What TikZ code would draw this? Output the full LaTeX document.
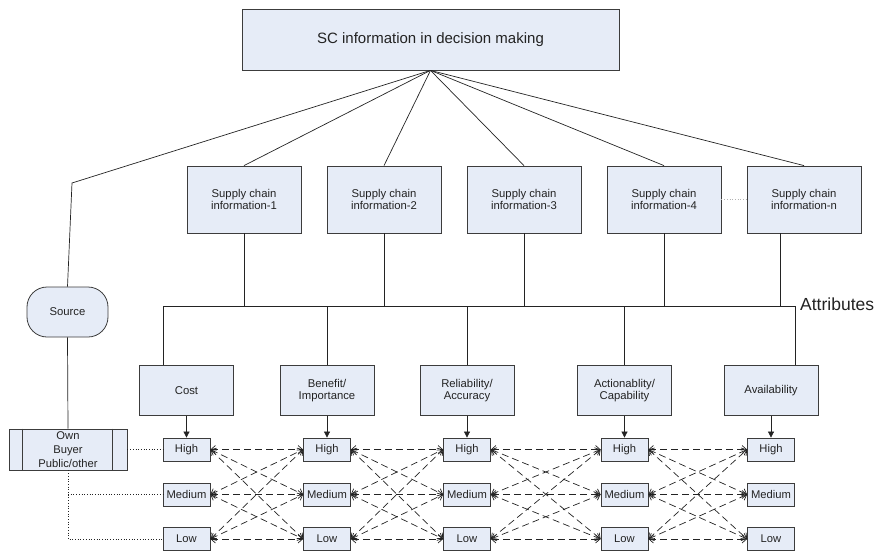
\documentclass[tikz,border=0pt]{standalone}
\usepackage{fontspec}
\setmainfont{Liberation Sans}
\usetikzlibrary{arrows.meta,positioning,calc}
\definecolor{paleblue}{RGB}{230,236,247}
\definecolor{edge}{RGB}{60,60,60}
\definecolor{ink}{RGB}{35,35,35}
\tikzset{
  >={Triangle[length=6pt,width=6pt]},
  box/.style={draw=edge,fill=paleblue,line width=0.8pt,align=center,text=ink,
    inner sep=1pt,font=\fontsize{11.3}{12.5}\selectfont},
  info box/.style={box,minimum width=114pt,minimum height=67pt},
  attr box/.style={box,minimum width=94pt,minimum height=50pt},
  level/.style={box,minimum width=47pt,minimum height=23pt,font=\fontsize{11.2}{12}\selectfont},
  link/.style={draw=ink,line width=0.7pt},
  rate/.style={draw=ink,line width=0.7pt,dash pattern=on 7pt off 4pt,
    {Straight Barb[length=4.5pt,width=8pt]}-{Straight Barb[length=4.5pt,width=8pt]}},
  source link/.style={draw=ink,line width=0.7pt,dotted},
}

\begin{document}
\begin{tikzpicture}[x=1pt,y=-1pt]
  \useasboundingbox (0,0) rectangle (879,552);
  % decision level
  \node[box,minimum width=377pt,minimum height=61pt,font=\fontsize{15}{18}\selectfont] (top) at (430.5,39.5) {SC information in decision making};
  \foreach \i/\x in {1/244,2/384,3/524,4/664,n/804}
    \node[info box] (info\i) at (\x,199.5) {Supply chain\\information-\i};
  \draw[gray!60,dotted,line width=0.7pt] (info4.east) -- (infon.west);
  \foreach \i in {1,2,3,4,n} \draw[link] (top.south) -- (info\i.north);
  % source branch
  \coordinate (bend) at (72,183);
  \node[box,rounded corners=20pt,minimum width=81pt,minimum height=50pt] (source) at (67.5,312) {Source};
  \node[box,minimum width=118pt,minimum height=41pt,font=\fontsize{11.2}{14}\selectfont] (own) at (68,449.5) {Own\\Buyer\\Public/other};
  \draw[edge,line width=0.8pt] ([xshift=14pt]own.north west) -- ([xshift=14pt]own.south west)
    ([xshift=-15pt]own.north east) -- ([xshift=-15pt]own.south east);
  \draw[link] (top.south) -- (bend) -- (source.north);
  \draw[link] (source.south) -- (own.north);
  % attributes
  \node[attr box] (cost) at (186.5,390.5) {Cost};
  \node[attr box] (benefit) at (327,390.5) {Benefit/\\Importance};
  \node[attr box] (reliab) at (467,390.5) {Reliability/\\Accuracy};
  \node[attr box] (action) at (624.5,390.5) {Actionablity/\\Capability};
  \node[attr box] (avail) at (771,390.5) {Availability};
  \coordinate (busL) at (163,306);
  \coordinate (busR) at (795,306);
  \draw[link] (cost.north -| busL) -- (busL) -- (busR) -- (avail.north -| busR);
  \foreach \i in {1,2,3,4} \draw[link] (info\i.south) -- (info\i.south |- busL);
  \draw[link] ([xshift=-24pt]infon.south) -- ([xshift=-24pt]infon.south |- busL);
  \foreach \n in {benefit,reliab,action} \draw[link] (\n.north) -- (\n.north |- busL);
  \node[font=\fontsize{17.5}{20}\selectfont,text=ink,anchor=west,inner sep=0pt] (attrlabel) at (800,304) {Attributes};
  % levels
  \foreach \c/\x/\n in {1/186.5/cost,2/327/benefit,3/467/reliab,4/624.5/action,5/771/avail} {
    \node[level] (hi\c) at (\x,449.5) {High};
    \node[level] (med\c) at (\x,494.5) {Medium};
    \node[level] (low\c) at (\x,539) {Low};
    \draw[link,->] (\n.south) -- (hi\c.north);
  }
  \foreach \a/\b in {1/2,2/3,3/4,4/5}
    \foreach \p in {hi,med,low}
      \foreach \q in {hi,med,low}
        \draw[rate] (\p\a.east) -- (\q\b.west);
  \draw[source link] (own.east) -- (hi1.west);
  \draw[source link] (own.south) |- (low1.west);
  \draw[source link] (own.south |- med1.west) -- (med1.west);
\end{tikzpicture}
\end{document}
